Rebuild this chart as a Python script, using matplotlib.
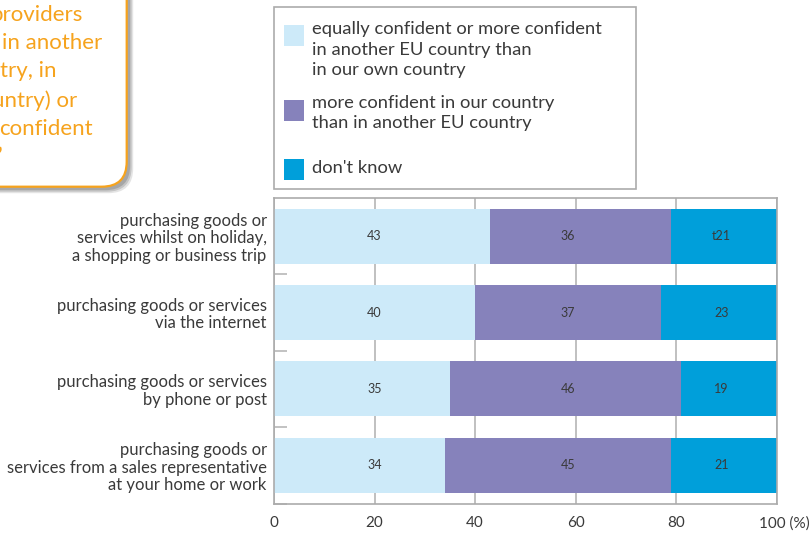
import matplotlib.pyplot as plt
import matplotlib.transforms as mtransforms
from matplotlib.patches import FancyBboxPatch, Rectangle

plt.rcParams['font.family'] = ['Lato', 'DejaVu Sans']

# datos (%)
categorias = [
    "purchasing goods or\nservices whilst on holiday,\na shopping or business trip",
    "purchasing goods or services\nvia the internet",
    "purchasing goods or services\nby phone or post",
    "purchasing goods or\nservices from a sales representative\nat your home or work",
]
igual_o_mas = [43, 40, 35, 34]
mas_propio = [36, 37, 46, 45]
no_sabe = [21, 23, 19, 21]
etiquetas_igual = ["43", "40", "35", "34"]
etiquetas_propio = ["36", "37", "46", "45"]
etiquetas_no_sabe = ["t21", "23", "19", "21"]

nombres_series = [
    "equally confident or more confident\nin another EU country than\nin our own country",
    "more confident in our country\nthan in another EU country",
    "don't know",
]
colores = ['#CDEAF9', '#8682BB', '#009FDA']

ticks_x = [0, 20, 40, 60, 80, 100]
ticks_x_textos = ['0', '20', '40', '60', '80', '100 (%)']

# texto del recuadro naranja (recortado por el borde)
recuadro_lineas = ["providers", "in another", "try, in", "untry) or", "confident", "\u2019"]

W, H = 809, 534
gris_texto = '#3A3A3A'
gris_linea = '#ABABAB'
naranja = '#F6A31D'


def fx(px):
    return px / W


def fy(py):
    return 1 - py / H


fig = plt.figure(figsize=(W / 100, H / 100), dpi=100)
ax = fig.add_axes([fx(274), fy(503.5), fx(502.5), 305.5 / H])

y = list(range(len(categorias)))
izq2 = igual_o_mas
izq3 = [a + b for a, b in zip(igual_o_mas, mas_propio)]
alto = 0.72
ax.barh(y, igual_o_mas, height=alto, color=colores[0], zorder=2)
ax.barh(y, mas_propio, left=izq2, height=alto, color=colores[1], zorder=2)
ax.barh(y, no_sabe, left=izq3, height=alto, color=colores[2], zorder=2)

# etiquetas de valores (columnas fijas como en el original)
for i in y:
    ax.text(20, i, etiquetas_igual[i], ha='center', va='center', fontsize=9, color=gris_texto, zorder=3)
    ax.text(58.5, i, etiquetas_propio[i], ha='center', va='center', fontsize=9, color=gris_texto, zorder=3)
    ax.text(89, i, etiquetas_no_sabe[i], ha='center', va='center', fontsize=9, color=gris_texto, zorder=3)

ax.set_xlim(0, 100)
ax.set_ylim(3.5, -0.5)
ax.set_xticks(ticks_x)
ax.set_xticklabels(ticks_x_textos, fontsize=11, color=gris_texto)
ax.set_yticks(y)
ax.set_yticklabels(categorias, fontsize=12, color=gris_texto, linespacing=1.11)
ax.tick_params(axis='both', which='major', length=0)
ax.tick_params(axis='y', pad=5.3)
ax.tick_params(axis='x', pad=9)
ax.set_yticks([0.5, 1.5, 2.5, 3.5], minor=True)
ax.tick_params(axis='y', which='minor', direction='in', length=9.5, width=1.2, color='#B8B8B8')

# "100 (%)": el 100 queda sobre la linea, el (%) a la derecha
ultima = ax.get_xticklabels()[-1]
ultima.set_horizontalalignment('left')
ultima.set_transform(ultima.get_transform() + mtransforms.ScaledTranslation(-0.175, 0, fig.dpi_scale_trans))

ax.xaxis.grid(True, color='#B5B5B5', linewidth=1.2, zorder=0)
ax.set_axisbelow(True)
for s in ax.spines.values():
    s.set_color(gris_linea)
    s.set_linewidth(1.2)

# leyenda
fig.patches.append(Rectangle((fx(274), fy(189.3)), fx(361.7), 182 / H, transform=fig.transFigure,
                             facecolor='white', edgecolor=gris_linea, linewidth=1.2))
centros_leyenda = [49.7, 113, 168.3]
cuadros_leyenda = [25, 100, 158.5]
for nombre, color, cy, qy in zip(nombres_series, colores, centros_leyenda, cuadros_leyenda):
    fig.patches.append(Rectangle((fx(284), fy(qy + 21)), fx(20), 21 / H, transform=fig.transFigure,
                                 facecolor=color, edgecolor='none'))
    fig.text(fx(311.7), fy(cy), nombre, ha='left', va='center', fontsize=13.2, color=gris_texto,
             linespacing=1.34)

# recuadro naranja con sombra
for dx, a in [(0.065, 0.2), (0.05, 0.3), (0.035, 0.4)]:
    fig.patches.append(FancyBboxPatch((-0.6 + dx, 3.473 - dx), 1.867, 2.6,
                                      boxstyle='round,pad=0,rounding_size=0.25',
                                      transform=fig.dpi_scale_trans, facecolor='#7A7A7A',
                                      edgecolor='none', alpha=a))
fig.patches.append(FancyBboxPatch((-0.6, 3.473), 1.867, 2.6, boxstyle='round,pad=0,rounding_size=0.25',
                                  transform=fig.dpi_scale_trans, facecolor='white',
                                  edgecolor=naranja, linewidth=1.6))
fin_lineas = [83, 102, 57, 77, 93, 3]
bases = [20.7, 49.3, 77, 106.7, 135, 163]
for txt, xp, bp in zip(recuadro_lineas, fin_lineas, bases):
    fig.text(fx(xp), fy(bp), txt, ha='right', va='baseline', fontsize=16, color=naranja)

fig.savefig('out.png', dpi=100)
